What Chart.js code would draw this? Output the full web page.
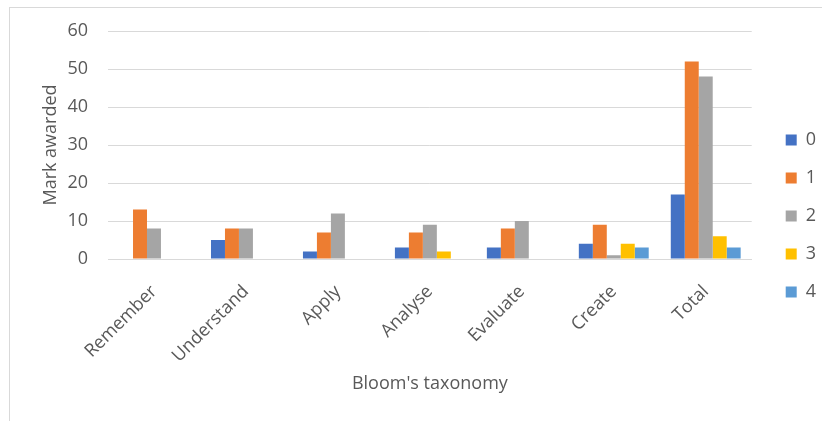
<!DOCTYPE html>
<html>
<head>
<meta charset="utf-8">
<script src="https://cdn.jsdelivr.net/npm/chart.js@4.4.0/dist/chart.umd.min.js"></script>
<style>
  html, body { margin: 0; padding: 0; background: #fff; }
  #wrap { position: relative; width: 822px; height: 421px; overflow: hidden; }
  #frame { position: absolute; left: 9px; top: 7px; width: 900px; height: 500px; border: 1px solid #d9d9d9; pointer-events: none; }
</style>
</head>
<body>
<div id="wrap">
  <canvas id="bloomChart" width="822" height="421"></canvas>
  <div id="frame"></div>
</div>
<script>
const categories = ['Remember', 'Understand', 'Apply', 'Analyse', 'Evaluate', 'Create', 'Total'];
const mark0 = [0, 5, 2, 3, 3, 4, 17];
const mark1 = [13, 8, 7, 7, 8, 9, 52];
const mark2 = [8, 8, 12, 9, 10, 1, 48];
const mark3 = [0, 0, 0, 2, 0, 4, 6];
const mark4 = [0, 0, 0, 0, 0, 3, 3];
const seriesLabels = ['0', '1', '2', '3', '4'];
const seriesColors = ['#4472C4', '#ED7D31', '#A5A5A5', '#FFC000', '#5B9BD5'];
const yTicks = [0, 10, 20, 30, 40, 50, 60];

const textColor = '#595959';
const fontFamily = "'Open Sans', 'Noto Sans', sans-serif";

const allSeries = [mark0, mark1, mark2, mark3, mark4];
const datasets = allSeries.map((data, i) => ({
    label: seriesLabels[i],
    data: data,
    backgroundColor: seriesColors[i],
    borderWidth: 0,
    categoryPercentage: 0.76,
    barPercentage: 1.0
}));

// nudge the legend to the right, like the original
const legendShift = {
    id: 'legendShift',
    afterLayout: (chart) => {
        if (chart.legend) {
            chart.legend.left += 14;
            chart.legend.right += 14;
        }
    }
};

new Chart(document.getElementById('bloomChart').getContext('2d'), {
    type: 'bar',
    data: { labels: categories, datasets: datasets },
    plugins: [legendShift],
    options: {
        responsive: false,
        animation: false,
        layout: { padding: { left: 36, top: 31, right: 10, bottom: 20 } },
        plugins: {
            legend: {
                position: 'right',
                align: 'center',
                labels: {
                    boxWidth: 11,
                    boxHeight: 11,
                    padding: 20,
                    color: textColor,
                    font: { family: fontFamily, size: 18 }
                }
            },
            tooltip: { enabled: false }
        },
        scales: {
            x: {
                grid: { display: false },
                border: { display: true, color: '#d9d9d9', width: 1 },
                ticks: {
                    color: textColor,
                    font: { family: fontFamily, size: 18 },
                    minRotation: 45,
                    maxRotation: 45,
                    padding: 14
                },
                title: {
                    display: true,
                    text: "Bloom's taxonomy",
                    color: textColor,
                    font: { family: fontFamily, size: 18 },
                    padding: { top: 4, bottom: 6 }
                },
                afterFit: (scale) => { scale.height = 421 - 259 - 20; }
            },
            y: {
                min: 0,
                max: 60,
                afterBuildTicks: (scale) => { scale.ticks = yTicks.map(v => ({ value: v })); },
                grid: { color: '#d9d9d9', drawTicks: false },
                border: { display: false },
                ticks: {
                    color: textColor,
                    font: { family: fontFamily, size: 18 },
                    padding: 20
                },
                title: {
                    display: true,
                    text: 'Mark awarded',
                    color: textColor,
                    font: { family: fontFamily, size: 18 },
                    padding: { top: 4, bottom: 4 }
                },
                afterFit: (scale) => { scale.width = 108 - 36; }
            }
        }
    }
});
</script>
</body>
</html>
